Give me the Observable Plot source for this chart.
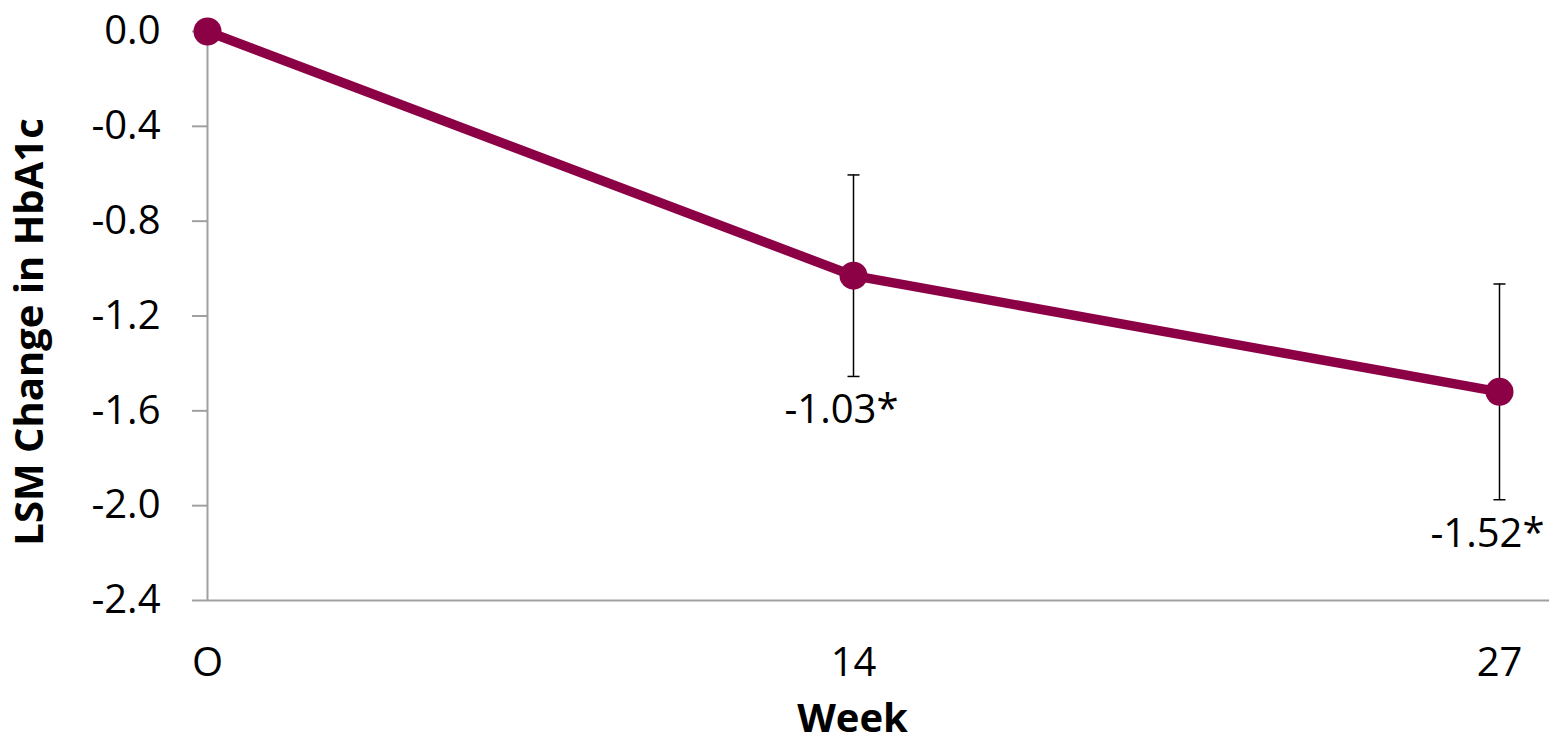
<!DOCTYPE html>
<html>
<head>
<meta charset="utf-8">
<script src="https://cdn.jsdelivr.net/npm/d3@7"></script>
<script src="https://cdn.jsdelivr.net/npm/@observablehq/plot@0.6"></script>
<style>
  html, body { margin: 0; padding: 0; background: #fff; }
  #chart { width: 1549px; height: 745px; }
</style>
</head>
<body>
<div id="chart"></div>
<script>
// Least-squares mean change in HbA1c by study week
const weeks = ["O", "14", "27"];
const lsmChange = [0, -1.03, -1.52];
const errorHalfWidth = [null, 0.425, 0.455];
const valueLabels = [null, "-1.03*", "-1.52*"];
const yTicks = [0, -0.4, -0.8, -1.2, -1.6, -2.0, -2.4];

const lineColor = "#8C0046";
const axisGray = "#A0A0A0";

const rows = weeks.map((week, i) => ({
  week,
  value: lsmChange[i],
  err: errorHalfWidth[i],
  label: valueLabels[i]
}));
const withErr = rows.filter(d => d.err != null);
const labelled = rows.filter(d => d.label != null);

// horizontal dash used for error-bar end caps (half-length = r)
const capSymbol = {
  draw(context, size) {
    const w = Math.sqrt(size / Math.PI);
    context.moveTo(-w, 0);
    context.lineTo(w, 0);
  }
};

const chart = Plot.plot({
  width: 1549,
  height: 745,
  marginLeft: 207,
  marginRight: 0,
  marginTop: 31,
  marginBottom: 145,
  style: { fontFamily: "'Open Sans', sans-serif", fontSize: "40px", color: "#000", background: "#fff" },
  x: { type: "point", domain: weeks, range: [207, 1499], padding: 0 },
  y: { domain: [-2.4, 0] },
  marks: [
    Plot.ruleY([-2.4], { stroke: axisGray, strokeWidth: 2 }),
    Plot.ruleX([weeks[0]], { stroke: axisGray, strokeWidth: 2 }),
    Plot.axisY({
      ticks: yTicks,
      tickSize: 15,
      tickPadding: 32,
      tickFormat: d => d.toFixed(1),
      stroke: axisGray,
      strokeWidth: 2,
      fill: "#000",
      fontSize: 40,
      label: null
    }),
    Plot.axisX({ tickSize: 0, tickPadding: 47, fill: "#000", fontSize: 40, label: null }),
    // error bars with end caps
    Plot.ruleX(withErr, {
      x: "week",
      y1: d => d.value - d.err,
      y2: d => d.value + d.err,
      stroke: "#000",
      strokeWidth: 1.5
    }),
    Plot.dot(withErr, { x: "week", y: d => d.value - d.err, symbol: capSymbol, r: 6, stroke: "#000", strokeWidth: 1.5, fill: "none" }),
    Plot.dot(withErr, { x: "week", y: d => d.value + d.err, symbol: capSymbol, r: 6, stroke: "#000", strokeWidth: 1.5, fill: "none" }),
    Plot.line(rows, { x: "week", y: "value", stroke: lineColor, strokeWidth: 9.5 }),
    Plot.dot(rows, { x: "week", y: "value", r: 14, fill: lineColor, stroke: null }),
    Plot.text(labelled, {
      x: "week",
      y: d => d.value - d.err,
      text: "label",
      dy: 34,
      dx: -12,
      fontSize: 40,
      lineAnchor: "middle",
      fill: "#000"
    }),
    Plot.text(["LSM Change in HbA1c"], {
      text: d => d,
      frameAnchor: "left",
      textAnchor: "middle",
      lineAnchor: "middle",
      dx: -177,
      dy: 16,
      rotate: -90,
      fontSize: 40,
      fontWeight: "bold",
      fill: "#000"
    }),
    Plot.text(["Week"], {
      text: d => d,
      frameAnchor: "bottom",
      lineAnchor: "middle",
      dx: -26,
      dy: 119,
      fontSize: 40,
      fontWeight: "bold",
      fill: "#000"
    })
  ]
});

document.getElementById("chart").appendChild(chart);
</script>
</body>
</html>
